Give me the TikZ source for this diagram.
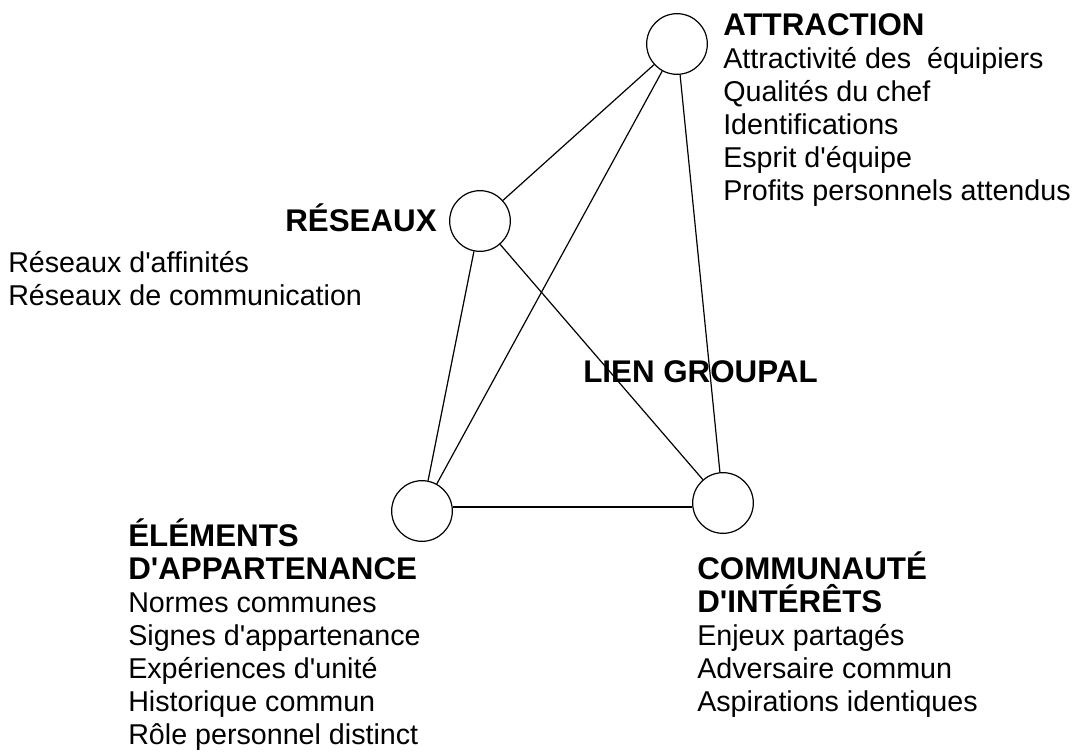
\documentclass[tikz,border=0pt]{standalone}
\usepackage{fontspec}
\setmainfont{Liberation Sans}[Ligatures=TeXOff]
\newcommand{\poletitle}[1]{{\fontsize{23.5}{24.75}\selectfont\bfseries #1}}
\begin{document}
\begin{tikzpicture}[x=0.75pt,y=-0.75pt,
    pole/.style={circle, draw, line width=0.9pt, minimum size=45.5pt, inner sep=0pt},
    link/.style={line width=0.9pt},
    items/.style={align=left, inner sep=0pt, font=\fontsize{21.5}{24.75}\selectfont}]
  \useasboundingbox (0,0) rectangle (1083,754);
  % the four poles
  \node[pole] (attr) at (677,44) {};
  \node[pole] (res) at (480,221) {};
  \node[pole] (elem) at (422,511) {};
  \node[pole] (comm) at (723,503) {};
  % edges
  \draw[link] (attr) -- (res);
  \draw[link] (attr) -- (elem);
  \draw[link] (attr) -- (comm);
  \draw[link] (res) -- (elem);
  \draw[link] (res) -- (comm);
  \draw[link] ([yshift=3pt]elem.east) -- ([yshift=-3pt]comm.west);
  % labels (base = baseline of the last line)
  \node[items, anchor=base west] (attrtxt) at (723,200) {\poletitle{ATTRACTION}\\Attractivité des\ \ équipiers\\Qualités du chef\\Identifications\\Esprit d'équipe\\Profits personnels attendus};
  \node[items, anchor=base east] (restitle) at (437,231) {\poletitle{RÉSEAUX}};
  \node[items, anchor=base west] (restxt) at (8,305) {Réseaux d'affinités\\Réseaux de communication};
  \node[items, anchor=base west] (lien) at (583,382) {\poletitle{LIEN GROUPAL}};
  \node[items, anchor=base west] (elemtxt) at (128,744) {\poletitle{ÉLÉMENTS}\\\poletitle{D'APPARTENANCE}\\Normes communes\\Signes d'appartenance\\Expériences d'unité\\Historique commun\\Rôle personnel distinct};
  \node[items, anchor=base west] (commtxt) at (697,711) {\poletitle{COMMUNAUTÉ}\\\poletitle{D'INTÉRÊTS}\\Enjeux partagés\\Adversaire commun\\Aspirations identiques};
\end{tikzpicture}
\end{document}
